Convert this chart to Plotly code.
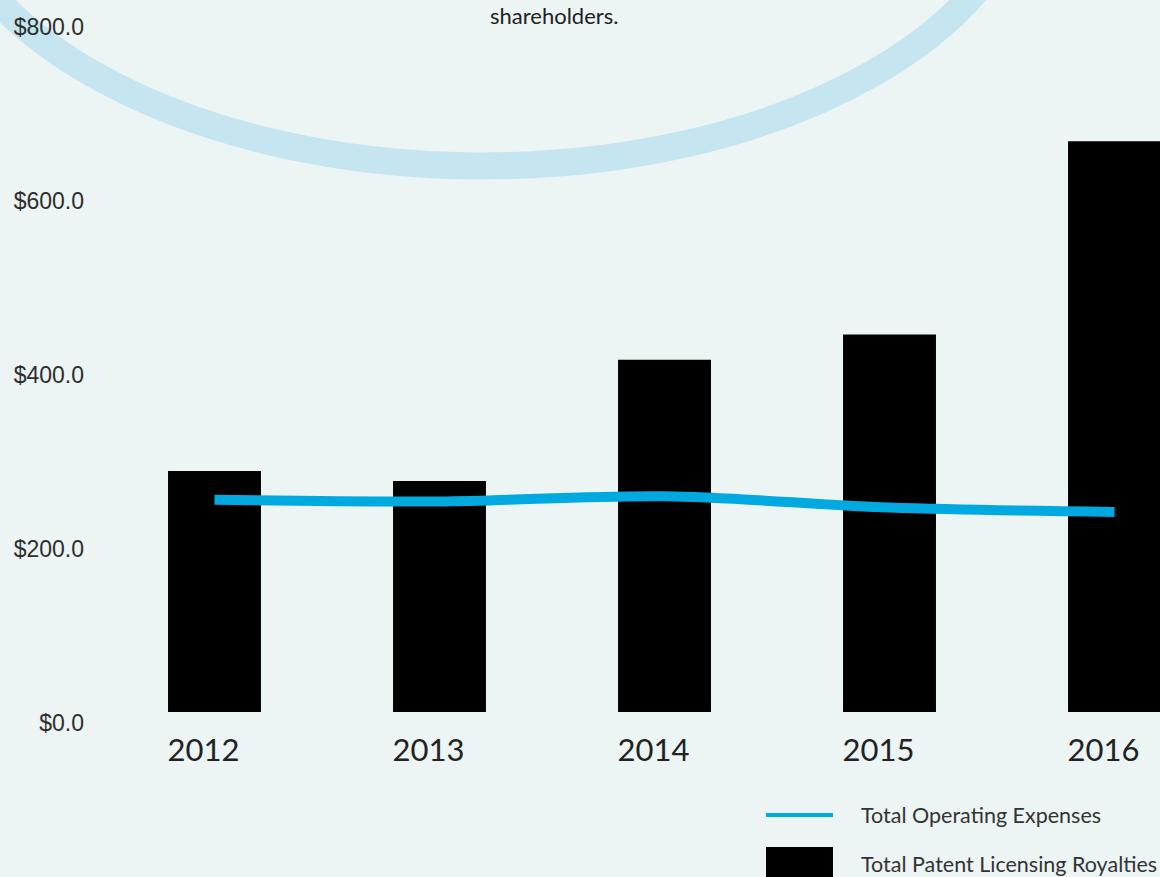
import plotly.graph_objects as go

# ---- data ----
years = ["2012", "2013", "2014", "2015", "2016"]
royalties = [277, 265.5, 405, 434, 656]          # Total Patent Licensing Royalties
op_expenses = [244, 242, 248, 235, 230]           # Total Operating Expenses
y_tick_vals = [0, 200, 400, 600, 800]
y_tick_text = ["$0.0", "$200.0", "$400.0", "$600.0", "$800.0"]

# ---- layout geometry (pixels) ----
W, H = 1160, 877
ML, MR, MT, MB = 102, 0, 0, 165
PW, PH = W - ML - MR, H - MT - MB
BG = "#ecf4f4"
BLUE = "#00a9e0"
RING = "#c5e6f0"


def px(x):
    return (x - ML) / PW


def py(y):
    return (MT + PH - y) / PH


fig = go.Figure()
fig.add_trace(go.Bar(
    x=years, y=royalties, name="Total Patent Licensing Royalties",
    marker=dict(color="#000000", line=dict(width=0)), width=0.413,
    showlegend=False,
))
fig.add_trace(go.Scatter(
    x=years, y=op_expenses, name="Total Operating Expenses",
    mode="lines", line=dict(color=BLUE, width=10, shape="spline", smoothing=1.0),
    showlegend=False,
))

RCX, RCY, RA, RB = 482.5, -147, 550, 313
shapes = [
    # decorative ring
    dict(type="circle", xref="paper", yref="paper", layer="below",
         x0=px(RCX - RA), x1=px(RCX + RA), y0=py(RCY - RB), y1=py(RCY + RB),
         line=dict(color=RING, width=27), fillcolor="rgba(0,0,0,0)"),
    # legend symbols
    dict(type="line", xref="paper", yref="paper", x0=px(766), x1=px(833), y0=py(815), y1=py(815),
         line=dict(color=BLUE, width=4)),
    dict(type="rect", xref="paper", yref="paper", x0=px(766), x1=px(833), y0=py(847), y1=py(880),
         fillcolor="#000000", line=dict(width=0)),
]

annotations = [
    dict(text="shareholders.", xref="paper", yref="paper", x=px(554), y=py(0),
         showarrow=False, font=dict(family="Lato", size=22, color="#222222"),
         xanchor="center", yanchor="top"),
    dict(text="Total Operating Expenses", xref="paper", yref="paper", x=px(859), y=py(815),
         showarrow=False, font=dict(family="Lato", size=21.5, color="#333333"),
         xanchor="left", yanchor="middle"),
    dict(text="Total Patent Licensing Royalties", xref="paper", yref="paper", x=px(859), y=py(864),
         showarrow=False, font=dict(family="Lato", size=21.5, color="#333333"),
         xanchor="left", yanchor="middle"),
]

fig.update_layout(
    width=W, height=H,
    margin=dict(l=ML, r=MR, t=MT, b=MB, pad=0),
    paper_bgcolor=BG, plot_bgcolor=BG,
    shapes=shapes, annotations=annotations,
    showlegend=False,
    bargap=0.5,
    xaxis=dict(type="category", range=[-0.5, 4.2022], showgrid=False, zeroline=False,
               showline=False, ticks="outside", ticklen=11, tickcolor="rgba(0,0,0,0)",
               ticklabelshift=-11,
               tickfont=dict(family="Lato", size=31, color="#222222")),
    yaxis=dict(range=[0, PH / 0.87], showgrid=False, zeroline=False, showline=False,
               tickvals=y_tick_vals, ticktext=y_tick_text, ticks="",
               ticklabelshift=11, ticklabelstandoff=17,
               tickfont=dict(family="Liberation Sans", size=23, color="#2e2e2e")),
)

fig.write_html("out.html")
